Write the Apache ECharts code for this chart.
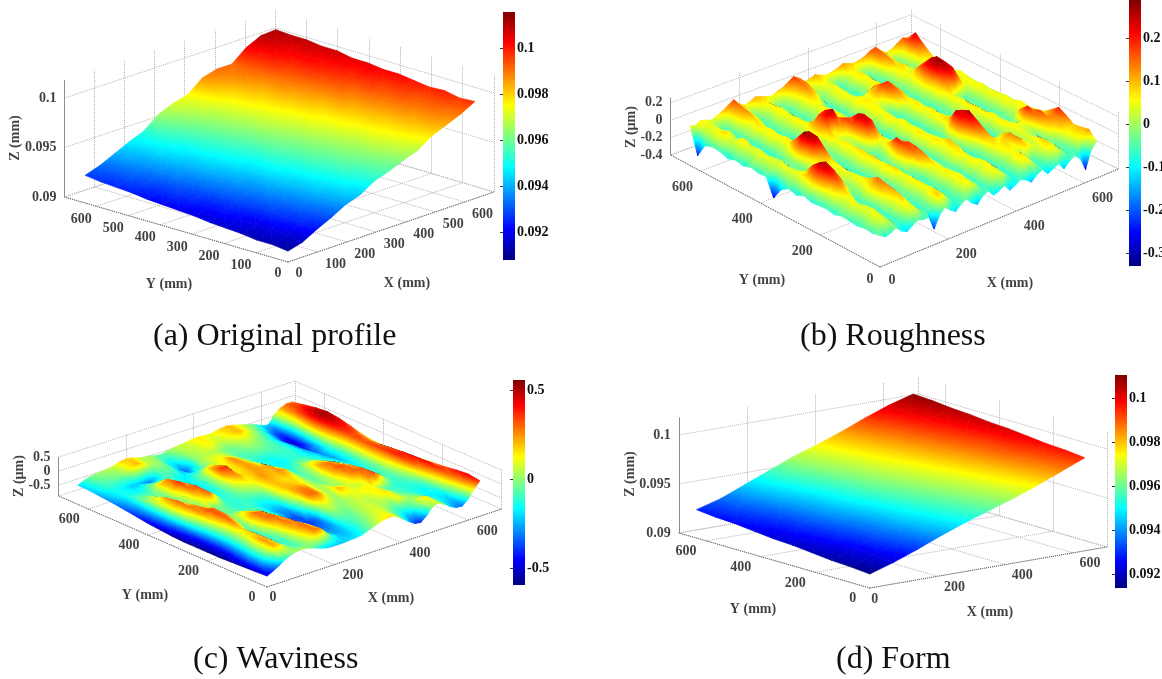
<!DOCTYPE html>
<html>
<head>
<meta charset="utf-8">
<style>html,body{margin:0;padding:0;background:#fff}#chart{width:1162px;height:679px}</style>
<script src="https://cdn.jsdelivr.net/npm/echarts@6/dist/echarts.min.js"></script>
</head>
<body>
<div id="chart"></div>
<script>
// surface heights, rows run along Y (first row Y = 0), columns along X (first column X = 0)
const originalMm = [
  [.0911,.0915,.0923,.0930,.0938,.0943,.0952,.0957,.0963,.0968,.0978,.0984,.0990,.0998],
  [.0913,.0917,.0925,.0931,.0939,.0946,.0952,.0959,.0965,.0972,.0979,.0987,.0992,.0997],
  [.0913,.0919,.0926,.0933,.0941,.0947,.0955,.0960,.0967,.0973,.0981,.0987,.0993,.1000],
  [.0915,.0919,.0928,.0934,.0941,.0949,.0955,.0962,.0967,.0975,.0981,.0989,.0994,.0999],
  [.0916,.0921,.0928,.0936,.0943,.0949,.0957,.0962,.0969,.0975,.0983,.0989,.0996,.1001],
  [.0917,.0923,.0930,.0936,.0944,.0951,.0957,.0964,.0970,.0977,.0983,.0991,.0996,.1003],
  [.0919,.0923,.0931,.0938,.0944,.0952,.0959,.0964,.0972,.0977,.0986,.0991,.0999,.1003],
  [.0920,.0925,.0932,.0939,.0946,.0952,.0960,.0966,.0972,.0980,.0986,.0994,.0999,.1005],
  [.0921,.0927,.0933,.0941,.0947,.0954,.0960,.0968,.0974,.0981,.0988,.0995,.1001,.1005],
  [.0922,.0927,.0935,.0941,.0949,.0955,.0962,.0968,.0975,.0983,.0989,.0997,.1002,.1008],
  [.0924,.0929,.0936,.0943,.0949,.0957,.0963,.0970,.0977,.0983,.0991,.0997,.1004,.1008],
  [.0925,.0931,.0937,.0945,.0951,.0958,.0965,.0971,.0978,.0986,.0992,.1000,.1004,.1010],
  [.0926,.0931,.0939,.0945,.0953,.0961,.0968,.0974,.0983,.0988,.0993,.1001,.1007,.1010],
  [.0928,.0933,.0940,.0947,.0953,.0965,.0971,.0975,.0987,.0991,.0991,.1003,.1010,.1011]
]
// hundredths of a micron
const roughness = [
  [-4,-8,-6,-3,-9,-12,-8,-4,-6,-6,-22,-9,-2,-8,-12,-6,-3,-10,-14,-7,-4,-11,-9,-5,-13,-10,-6,-9,-14,-8,-5,-12,-9,-6,-14,-8,-4,-10,-25,-6,2],
  [-6,-1,3,1,-5,-7,-1,4,3,-3,-6,-1,9,6,-1,-7,-4,2,5,2,-6,-6,0,4,3,-4,-8,-2,4,5,-2,-7,-3,2,4,0,-6,-5,3,6,12],
  [-5,1,5,3,-5,-6,1,6,5,-3,-7,-2,6,7,0,-6,-3,3,7,3,-5,-5,2,6,4,-3,-7,-1,6,7,-1,-6,0,6,8,2,-5,-3,4,8,10],
  [-7,-2,3,5,-3,-6,0,5,9,1,-6,-3,2,6,2,-5,-5,1,6,5,-4,-6,0,4,6,-1,-6,-2,3,6,2,8,5,3,8,3,-4,-2,6,7,9],
  [-6,-1,4,4,-4,-7,2,7,11,3,-5,-3,3,7,1,-6,-3,3,7,4,-5,-5,2,6,5,-2,-7,-1,5,7,6,12,7,2,5,2,-5,5,9,12,15],
  [-5,0,5,2,-5,-5,3,10,13,6,-6,-2,4,6,0,-7,-4,2,5,3,-6,-6,1,5,3,-4,-6,0,6,6,9,13,6,0,4,1,-3,9,13,14,20],
  [-8,-1,3,6,-2,-6,4,9,15,8,-5,-4,2,5,2,-5,-5,4,8,4,-4,-4,3,7,4,-3,-7,-1,8,9,5,8,3,-1,5,3,2,14,17,10,13],
  [-6,1,6,10,5,-5,0,5,9,4,-6,-3,4,8,1,-6,-2,10,13,5,-5,-5,2,6,8,-1,-6,2,12,14,3,-2,-5,2,6,5,6,20,14,6,7],
  [-7,0,8,17,14,3,-2,4,6,-1,-7,-2,5,7,0,-5,6,16,16,6,-3,-6,1,5,10,1,-4,8,18,20,4,-4,-6,3,7,3,-3,12,8,2,5],
  [-8,2,14,24,20,8,-1,3,5,-2,-6,-3,3,6,2,-4,8,18,17,4,-4,-6,3,7,6,-2,-2,14,22,26,8,-3,-5,1,6,2,-5,-2,3,6,4],
  [-5,3,16,26,24,12,0,5,4,-3,-7,-2,4,8,1,-6,4,20,14,2,-5,-5,2,6,5,-3,-4,10,24,22,7,-5,-6,2,7,4,-4,-3,2,5,6],
  [-9,1,10,18,16,8,-3,3,6,-1,-6,-1,5,7,0,-5,-2,9,7,-1,-6,-4,3,7,4,-4,-6,-1,8,9,-1,-7,-3,3,6,1,-5,-4,3,6,3],
  [-6,-1,5,6,-2,-5,2,7,8,0,-7,-3,3,8,3,-5,-3,3,6,3,-5,-6,1,6,5,-3,-7,-1,6,7,0,-6,-3,4,7,2,-5,-3,2,5,4],
  [-12,0,4,3,-4,-3,6,13,16,5,-6,-2,4,6,1,-3,9,14,9,2,-6,-5,2,5,4,-3,-6,0,5,6,-1,-5,-2,3,6,1,-4,-4,3,6,3],
  [-26,-3,5,2,-5,-2,10,24,25,8,-5,-3,2,7,3,1,14,24,20,4,-4,-6,0,5,6,-2,-7,-2,4,7,1,-6,-3,3,5,3,-4,-3,2,5,2],
  [-6,0,3,4,-3,-1,14,28,26,9,-6,-2,3,6,2,3,17,25,22,6,-5,-5,3,7,3,-4,-6,0,6,5,-1,-6,-4,2,7,2,-5,-4,3,6,4],
  [-7,-1,4,3,-5,-3,7,16,14,3,-7,-3,4,10,6,12,18,16,9,3,-4,-6,1,5,4,-3,-7,-1,5,7,1,-7,-3,4,8,14,18,12,4,6,3],
  [-5,1,5,2,-6,-5,1,6,5,-3,-5,1,8,14,22,26,14,6,4,2,-5,-5,2,6,5,-2,-4,7,9,6,0,-6,-2,3,9,20,26,22,9,5,4],
  [-8,-2,3,4,-4,-7,0,5,6,-2,-6,-1,5,12,18,20,9,2,5,3,-6,-6,0,5,6,3,4,14,15,10,-1,-5,-3,4,12,24,28,24,12,4,6],
  [-6,0,4,3,-5,-6,2,6,4,-3,-7,-3,3,6,4,-3,-4,2,6,4,-4,-4,3,6,7,6,12,18,18,12,1,-6,-2,3,10,22,26,25,11,6,3],
  [-9,-1,5,7,-2,-7,0,5,6,-2,-5,-2,4,7,1,-6,-3,3,7,3,-5,-6,1,5,5,4,8,11,9,3,-2,-7,-3,2,6,14,16,14,6,3,5],
  [-6,1,3,2,-5,-5,2,7,5,-3,-7,-1,3,5,0,-7,-4,1,5,2,-6,-5,3,6,3,-4,-6,-1,5,6,-1,-5,-2,4,6,3,4,5,3,6,4],
  [-5,3,8,6,-2,-6,1,4,8,3,-6,-2,4,6,2,-5,-3,3,6,7,2,-5,2,5,4,-3,-7,-2,4,5,0,-6,-3,3,7,8,3,-4,3,7,9],
  [-8,2,5,3,-3,-4,3,8,12,6,-5,-3,2,7,3,-6,-4,2,7,12,9,-3,0,4,5,-2,-5,0,6,7,2,-5,-2,8,12,7,-3,-2,4,14,16],
  [-24,1,4,4,-4,-5,2,10,14,8,-4,-1,5,6,1,-4,-2,4,9,15,13,0,3,6,4,-3,-6,-1,5,6,-1,-4,0,12,15,9,-2,-4,5,18,24],
  [5,4,7,5,3,6,9,13,17,10,6,8,11,9,7,5,8,10,14,18,14,7,9,11,8,6,7,9,12,10,8,9,11,15,17,11,6,8,12,16,14]
]
// hundredths of a micron
const waviness = [
  [-50,-40,-28,-14,-4,2,4,0,-6,-14,-20,-22,-22,-22,-20,-19,-16,-8,0,8,13,15,8,-8,-24,-38,-41,-24,0,7,-4,-20,-30,-32,-14,14,38],
  [-52,-26,-2,22,18,4,-6,-8,0,14,28,24,2,-14,-22,-24,-20,-14,-6,0,6,10,8,-2,-10,-18,-16,-4,10,12,-2,-14,-20,-22,-4,24,44],
  [-54,-28,0,24,20,4,-10,-10,8,22,30,20,-2,-16,-26,-28,-24,-12,-8,-4,2,6,8,4,2,-2,10,6,0,-2,-10,-16,-18,-16,6,30,40],
  [-56,-36,-8,14,18,2,-14,-4,16,28,26,12,-6,-18,-30,-34,-30,-6,-2,-4,0,4,6,4,6,12,16,6,-4,-8,-12,-14,-16,-10,14,36,34],
  [-58,-44,-14,6,16,0,-10,12,28,30,20,6,-8,-20,-34,-40,-34,2,10,4,0,2,6,10,12,14,12,2,-6,-10,-12,-12,-10,-2,24,42,30],
  [-58,-46,-16,8,28,14,-6,18,30,26,12,0,-10,-22,-34,-38,-12,28,30,22,8,2,20,16,8,6,10,26,32,16,-2,-10,-6,6,34,40,26],
  [-58,-46,-12,16,32,26,-2,6,14,8,0,-6,-12,-22,-28,-26,4,24,28,24,12,4,6,2,2,12,26,30,30,14,-2,-10,-4,12,38,38,22],
  [-58,-42,-2,24,32,28,6,-6,-6,-8,-10,-10,-12,-18,-18,-14,12,20,20,18,14,6,0,-4,2,22,32,30,22,8,-4,-12,-6,14,36,34,18],
  [-56,-36,8,28,26,14,6,-4,-2,-8,-12,-12,-10,-10,-8,-4,14,20,18,16,16,10,0,-6,0,24,28,22,12,0,-8,-16,-8,14,34,30,16],
  [-52,-30,14,30,16,2,0,16,30,14,-8,-12,-8,-2,4,10,16,24,22,20,26,20,2,-8,-4,10,14,8,0,-8,-14,-22,-12,12,32,28,16],
  [-48,-28,10,24,6,-4,6,28,32,10,-10,-14,-10,2,18,24,16,20,24,22,22,10,-6,-12,-12,-6,-4,-6,-10,-14,-20,-26,-14,10,32,32,22],
  [-42,-28,2,8,-2,-4,20,36,24,4,-12,-18,-14,4,34,36,14,16,24,20,12,2,-10,-16,-18,-16,-12,-12,-14,-18,-22,-30,-14,14,36,40,34],
  [-36,-26,-8,-6,-8,-2,18,26,10,-2,-12,-18,-12,0,18,20,10,14,26,18,6,-4,-12,-14,-14,-12,-10,-10,-12,-18,-26,-36,-26,18,42,48,44],
  [-30,-22,-14,-16,-16,-14,-6,-6,-8,-8,-10,-16,-18,-14,-14,-6,4,10,12,8,2,-6,-8,-6,-4,-4,-6,-8,-12,-18,-28,-44,-42,16,44,52,50],
  [-26,-18,-14,-16,-18,-22,-22,-26,-30,-22,-8,-6,-8,-22,-36,-22,0,4,4,4,0,-4,-4,0,4,4,0,-4,-10,-18,-30,-44,-50,4,36,46,46],
  [-22,-14,-8,-6,-4,-2,4,14,20,14,4,2,-2,-14,-18,-8,2,4,6,12,14,8,6,10,16,20,14,6,-2,-10,-22,-34,-40,2,26,36,38],
  [-20,-10,-4,0,2,4,8,16,18,16,8,4,2,-4,-6,0,4,6,8,12,14,12,10,14,18,20,16,10,4,-2,-10,-20,-24,6,22,30,30]
]
const formMm = [
  [.09143,.0922,.0931,.0941,.0950,.0958,.0966,.0975,.0985,.0995],
  [.0916,.0924,.0933,.0943,.0952,.0960,.0968,.0977,.0987,.0997],
  [.0917,.0925,.0935,.0945,.0954,.0962,.0970,.0979,.0989,.0998],
  [.0919,.0927,.0936,.0946,.0956,.0964,.0972,.0981,.0991,.1000],
  [.0921,.0928,.0938,.0948,.0958,.0966,.0974,.0983,.0992,.1002],
  [.0922,.0930,.0940,.0950,.0960,.0968,.0976,.0985,.0994,.1003],
  [.0924,.0931,.0941,.0951,.0961,.0970,.0978,.0987,.0996,.1005],
  [.0926,.0933,.0943,.0953,.0963,.0971,.0980,.0989,.0998,.1006],
  [.0927,.0935,.0945,.0955,.0965,.0973,.0982,.0991,.1000,.1008],
  [.0929,.0936,.0946,.0956,.0966,.0974,.0983,.0993,.1002,.1009]
]

const ticksA = [0, 100, 200, 300, 400, 500, 600]
const ticksB = [0, 200, 400, 600]
const zTicksMm = [0.09, 0.095, 0.1]
const zTicksB = [-0.4, -0.2, 0, 0.2]
const zTicksC = [-0.5, 0, 0.5]
const barTicksMm = [0.092, 0.094, 0.096, 0.098, 0.1]
const barTicksB = [-0.3, -0.2, -0.1, 0, 0.1, 0.2]
const barTicksC = [-0.5, 0, 0.5]

const FONT = 'Liberation Serif'
const jetStops = [
  { offset: 0, color: '#000080' }, { offset: 0.125, color: '#0000ff' },
  { offset: 0.375, color: '#00ffff' }, { offset: 0.625, color: '#ffff00' },
  { offset: 0.875, color: '#ff0000' }, { offset: 1, color: '#800000' }
]

const panels = [
  {
    heights: originalMm, unit: 1, ticks: ticksA, zTicks: zTicksMm, barTicks: barTicksMm,
    O: [288, 262], L: [64.4, 197], R: [494, 192], B: [275, 127],
    zFloor: 0.09, zTop: 0.1018, zPx: 9900, range: [0.0908, 0.1016],
    bar: { left: 503, top: 12, width: 12, height: 248 },
    yOff: [-15, 13], xOff: [18, 12], y0Off: [-10, 11], x0Off: [11, 11],
    caption: '(a) Original profile', capLeft: 153, capTop: 320,
    names: [['Y (mm)', 169, 284], ['X (mm)', 407, 283], ['Z (mm)', 15, 138]]
  },
  {
    heights: roughness, unit: 0.01, ticks: ticksB, zTicks: zTicksB, barTicks: barTicksB,
    O: [880, 267], L: [670.6, 155], R: [1118.6, 169], B: [911, 67],
    zFloor: -0.4, zTop: 0.26, zPx: 87, range: [-0.33, 0.29],
    bar: { left: 1129, top: 0, width: 12, height: 266 },
    yOff: [-18, 16], xOff: [18, 15], y0Off: [-10, 12], x0Off: [12, 13],
    caption: '(b) Roughness', capLeft: 800, capTop: 320,
    names: [['Y (mm)', 762, 280], ['X (mm)', 1010, 283], ['Z (µm)', 631, 127]]
  },
  {
    heights: waviness, unit: 0.01, ticks: ticksB, zTicks: zTicksC, barTicks: barTicksC,
    O: [267, 587], L: [58.6, 496], R: [501.7, 509], B: [295, 420],
    zFloor: -0.89, zTop: 0.5, zPx: 28, range: [-0.596, 0.556],
    bar: { left: 513, top: 380, width: 12, height: 205 },
    yOff: [-19, 10], xOff: [19, 11], y0Off: [-15, 10], x0Off: [6, 10],
    caption: '(c) Waviness', capLeft: 193, capTop: 643,
    names: [['Y (mm)', 145, 595], ['X (mm)', 391, 598], ['Z (µm)', 19, 476]]
  },
  {
    heights: formMm, unit: 1, ticks: ticksB, zTicks: zTicksMm, barTicks: barTicksMm,
    O: [869.8, 588], L: [678.8, 533], R: [1106.8, 547], B: [917.8, 492],
    zFloor: 0.09, zTop: 0.1018, zPx: 9800, range: [0.0914, 0.10104],
    bar: { left: 1115, top: 375, width: 12, height: 213 },
    yOff: [-20, 11], xOff: [17, 11], y0Off: [-17, 10], x0Off: [5, 11],
    caption: '(d) Form', capLeft: 836, capTop: 643,
    names: [['Y (mm)', 753, 609], ['X (mm)', 990, 612], ['Z (mm)', 630, 474]]
  }
]

const BOX_MM = 700 // length of the floor edges
const SURFACE_MM = 635 // the measured area stops short of the box

// floor corners are bilinear, so the slight perspective of the picture is kept
function project(p, x, y, z) {
  const s = x / BOX_MM, t = y / BOX_MM
  const u = p.O[0] * (1 - s) * (1 - t) + p.R[0] * s * (1 - t) + p.L[0] * (1 - s) * t + p.B[0] * s * t
  const v = p.O[1] * (1 - s) * (1 - t) + p.R[1] * s * (1 - t) + p.L[1] * (1 - s) * t + p.B[1] * s * t
  return [u, v - (z - p.zFloor) * p.zPx]
}

// one triangle of the surface, filled with the jet ramp lying along its height gradient
function triangle(pts, vals, range) {
  const c = vals.map(v => (v - range[0]) / (range[1] - range[0]))
  const ax = pts[1][0] - pts[0][0], ay = pts[1][1] - pts[0][1]
  const bx = pts[2][0] - pts[0][0], by = pts[2][1] - pts[0][1]
  const det = ax * by - ay * bx
  let gx = 0, gy = 0
  if (Math.abs(det) > 1e-6) {
    gx = ((c[1] - c[0]) * by - (c[2] - c[0]) * ay) / det
    gy = (ax * (c[2] - c[0]) - bx * (c[1] - c[0])) / det
  }
  if (gx * gx + gy * gy < 1e-9) {
    gx = 1e-3
    gy = 0
  }
  const n = gx * gx + gy * gy
  const x0 = pts[0][0] - c[0] * gx / n, y0 = pts[0][1] - c[0] * gy / n
  const fill = {
    type: 'linear', global: true, colorStops: jetStops,
    x: x0, y: y0, x2: x0 + gx / n, y2: y0 + gy / n
  }
  return {
    type: 'polygon', shape: { points: pts },
    style: { fill: fill, stroke: fill, lineWidth: 0.7 }
  }
}

function surfaceSeries(p) {
  const rows = p.heights.length, cols = p.heights[0].length
  const cells = []
  for (let j = rows - 2; j >= 0; j--) {
    for (let i = cols - 2; i >= 0; i--) cells.push([i, j])
  }
  cells.sort((a, b) => (b[0] + b[1]) - (a[0] + a[1]))
  const vertex = (api, i, j) => {
    const z = p.heights[j][i] * p.unit
    const at = project(p, i / (cols - 1) * SURFACE_MM, j / (rows - 1) * SURFACE_MM, z)
    return { pt: api.coord(at), z: z }
  }
  return {
    type: 'custom', xAxisIndex: 0, yAxisIndex: 0, silent: true, animation: false,
    clip: false, data: cells,
    renderItem: (params, api) => {
      const i = api.value(0), j = api.value(1)
      const a = vertex(api, i, j), b = vertex(api, i + 1, j)
      const c = vertex(api, i + 1, j + 1), d = vertex(api, i, j + 1)
      return {
        type: 'group',
        children: [
          triangle([d.pt, c.pt, a.pt], [d.z, c.z, a.z], p.range),
          triangle([c.pt, b.pt, a.pt], [c.z, b.z, a.z], p.range)
        ]
      }
    }
  }
}

function linesSeries(data, color, type, width) {
  return {
    type: 'lines', coordinateSystem: 'cartesian2d', xAxisIndex: 0, yAxisIndex: 0,
    silent: true, animation: false, data: data.map(c => ({ coords: c })),
    lineStyle: { color: color, type: type, width: width, opacity: 1, curveness: 0 }
  }
}

function boxSeries(p) {
  const wall = [], floor = []
  const seg = (a, b) => [project(p, ...a), project(p, ...b)]
  p.ticks.forEach(v => {
    if (v > 0) {
      wall.push(seg([v, BOX_MM, p.zFloor], [v, BOX_MM, p.zTop]))
      wall.push(seg([BOX_MM, v, p.zFloor], [BOX_MM, v, p.zTop]))
    }
    wall.push(seg([v, 0, p.zFloor], [v, BOX_MM, p.zFloor]))
    wall.push(seg([0, v, p.zFloor], [BOX_MM, v, p.zFloor]))
  })
  p.zTicks.forEach(z => {
    wall.push(seg([0, BOX_MM, z], [BOX_MM, BOX_MM, z]))
    wall.push(seg([BOX_MM, 0, z], [BOX_MM, BOX_MM, z]))
  })
  wall.push(seg([0, BOX_MM, p.zFloor], [BOX_MM, BOX_MM, p.zFloor]))
  wall.push(seg([BOX_MM, 0, p.zFloor], [BOX_MM, BOX_MM, p.zFloor]))
  wall.push(seg([BOX_MM, 0, p.zFloor], [BOX_MM, 0, p.zTop]))
  wall.push(seg([BOX_MM, BOX_MM, p.zFloor], [BOX_MM, BOX_MM, p.zTop]))
  floor.push(seg([0, 0, p.zFloor], [BOX_MM, 0, p.zFloor]))
  floor.push(seg([0, 0, p.zFloor], [0, BOX_MM, p.zFloor]))
  return [
    linesSeries(wall, '#b4b4b4', 'dotted', 1),
    linesSeries(floor, '#555555', 'dotted', 1),
    linesSeries([seg([0, BOX_MM, p.zFloor], [0, BOX_MM, p.zTop])], '#8c8c8c', 'solid', 1)
  ]
}

function textItem(at, text, align, rotate) {
  return {
    value: at,
    label: {
      show: true, position: 'inside', formatter: text, align: align, verticalAlign: 'middle',
      rotate: rotate || 0, fontFamily: FONT, fontWeight: 'bold', fontSize: 14, color: '#111'
    }
  }
}

function textSeries(p) {
  const items = []
  p.ticks.forEach(v => {
    const ax = project(p, 0, v, p.zFloor), bx = project(p, v, 0, p.zFloor)
    const yo = v === 0 ? p.y0Off : p.yOff, xo = v === 0 ? p.x0Off : p.xOff
    items.push(textItem([ax[0] + yo[0], ax[1] + yo[1]], String(v), 'center'))
    items.push(textItem([bx[0] + xo[0], bx[1] + xo[1]], String(v), 'center'))
  })
  p.zTicks.forEach(z => {
    const a = project(p, 0, BOX_MM, z)
    items.push(textItem([a[0] - 8, a[1]], String(z), 'right'))
  })
  p.names.forEach((n, k) => items.push(textItem([n[1], n[2]], n[0], 'center', k === 2 ? 90 : 0)))
  return {
    type: 'scatter', xAxisIndex: 0, yAxisIndex: 0, symbolSize: 0, silent: true,
    animation: false, data: items
  }
}

const grids = [{ left: 0, top: 0, width: 1162, height: 679, outerBoundsMode: 'none' }]
const xAxes = [{ type: 'value', min: 0, max: 1162, show: false }]
const yAxes = [{ type: 'value', min: 0, max: 679, inverse: true, show: false }]
const series = []

panels.forEach((p, k) => {
  series.push(...boxSeries(p), surfaceSeries(p), textSeries(p))
  grids.push({ ...p.bar, outerBoundsMode: 'none' })
  xAxes.push({ type: 'value', gridIndex: k + 1, min: 0, max: 1, show: false })
  yAxes.push({
    type: 'value', gridIndex: k + 1, position: 'right', min: p.range[0], max: p.range[1],
    splitLine: { show: false },
    axisLine: { show: true, lineStyle: { color: '#333', width: 0.5 } },
    axisTick: { show: true, inside: true, length: 3, customValues: p.barTicks, lineStyle: { color: '#333' } },
    axisLabel: {
      customValues: p.barTicks, margin: 2, fontFamily: FONT, fontWeight: 'bold', fontSize: 14, color: '#111',
      formatter: v => String(v)
    }
  })
  series.push({
    type: 'custom', xAxisIndex: k + 1, yAxisIndex: k + 1, silent: true, animation: false,
    data: [[0, p.range[0], p.range[1]]],
    renderItem: (params, api) => {
      const a = api.coord([0, api.value(2)]), b = api.coord([1, api.value(1)])
      return {
        type: 'rect',
        shape: { x: a[0], y: a[1], width: b[0] - a[0], height: b[1] - a[1] },
        style: { fill: { type: 'linear', x: 0, y: 1, x2: 0, y2: 0, colorStops: jetStops } }
      }
    }
  })
})

const chart = echarts.init(document.getElementById('chart'), null, { renderer: 'canvas' })
chart.setOption({
  backgroundColor: '#fff',
  animation: false,
  title: panels.map(p => ({
    text: p.caption, left: p.capLeft, top: p.capTop + 1, padding: 0,
    textStyle: { fontFamily: FONT, fontWeight: 'normal', fontSize: 32, color: '#111' }
  })),
  grid: grids,
  xAxis: xAxes,
  yAxis: yAxes,
  series: series
})
</script>
</body>
</html>
